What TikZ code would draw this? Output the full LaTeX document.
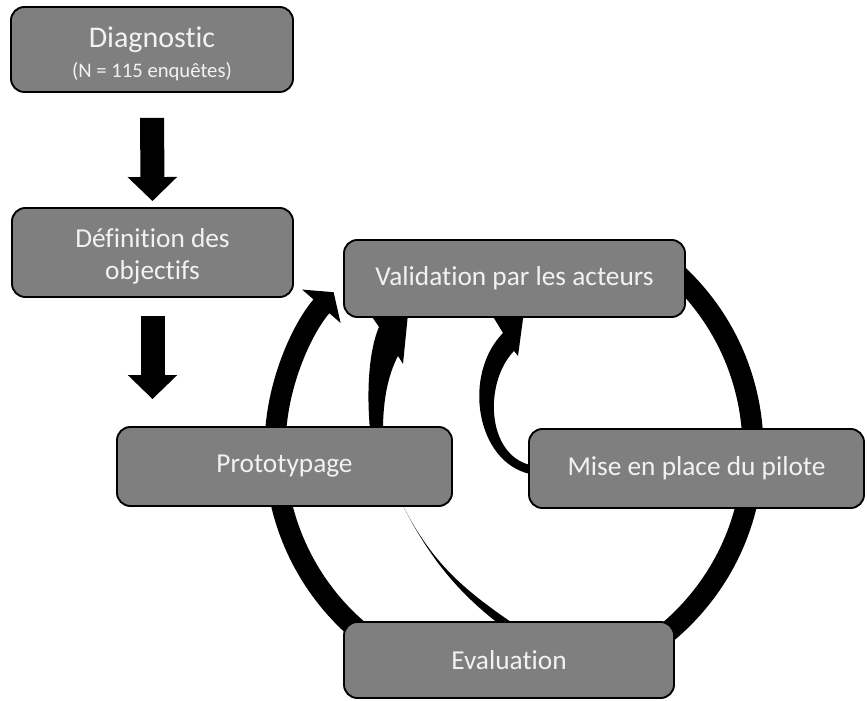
\documentclass[tikz,border=0pt]{standalone}
\usepackage{fontspec}
\setmainfont{Carlito}[Ligatures=NoCommon]
\usetikzlibrary{arrows.meta,backgrounds}
\definecolor{stagefill}{RGB}{127,127,127}
\definecolor{stagetext}{RGB}{242,242,242}

\begin{document}
\begin{tikzpicture}[x=0.75pt,y=0.75pt,
    stage/.style={draw=black, line width=1.4pt, fill=stagefill, rounded corners=10pt, text=stagetext, align=center, inner sep=0pt, font=\fontsize{20.5}{24}\selectfont},
    downarrow/.style={line width=18pt, -{Triangle[width=36pt,length=18pt]}},
    ringarrow/.style={line width=15.75pt, -{Triangle[width=37.5pt,length=14pt]}}]
    \useasboundingbox (0,0) rectangle (867,700);
    % stages
    \node[stage, minimum width=211.5pt, minimum height=63.75pt] (diag) at (152,650.5) {{\fontsize{22.5}{27}\selectfont\rule{0pt}{22pt}Diagnostic}\\[-1.5pt]{\fontsize{15.5}{18}\selectfont (N = 115 enquêtes)}};
    \node[stage, minimum width=210.75pt, minimum height=66.75pt] (defi) at (152.5,447.5) {\rule{0pt}{19.5pt}Définition des\\objectifs};
    \node[stage, minimum width=255.75pt, minimum height=57.75pt] (valid) at (514.5,421.5) {Validation par les acteurs};
    \node[stage, minimum width=251.25pt, minimum height=59.25pt] (proto) at (284.5,233.5) {Prototypage};
    \node[stage, minimum width=251.25pt, minimum height=59.25pt] (mise) at (696.5,231.5) {Mise en place du pilote};
    \node[stage, minimum width=247.5pt, minimum height=57pt] (eval) at (509,40) {Evaluation};
    \coordinate (hub) at (514,251);
    % arrows behind the stages
    \begin{scope}[on background layer]
      \draw[downarrow, shorten <=18.75pt, shorten >=4.5pt] (diag.south) -- (defi.north);
      \draw[downarrow, shorten <=13.5pt, shorten >=20.25pt] (defi.south) -- (defi.south |- proto.north);
      \draw[ringarrow] (hub) ++(50:239) arc[start angle=50, end angle=-221, radius=179.25pt];
      % prototypage -> validation
      \fill ([shift={(85.5,-4)}]proto.north) .. controls (366,315) and (370,352) .. ([shift={(-135.5,-9)}]valid.south)
        -- ([shift={(-144.5,4)}]valid.south) -- ([shift={(-105.5,14)}]valid.south) -- ([shift={(-111.5,-46)}]valid.south)
        -- ([shift={(-116.5,-38)}]valid.south) .. controls (388,325) and (383,300) .. ([shift={(98.5,-4)}]proto.north) -- cycle;
      % pilote -> validation
      \fill ([shift={(2,-5.5)}]mise.west) .. controls (476,238) and (462,325) .. ([shift={(-11.5,-15)}]valid.south)
        -- ([shift={(-22.5,3)}]valid.south) -- ([shift={(10.5,14)}]valid.south) -- ([shift={(3.5,-38)}]valid.south)
        -- ([shift={(-0.5,-33)}]valid.south) .. controls (484,318) and (486,246) .. ([shift={(2,3.5)}]mise.west) -- cycle;
      % prototypage -> evaluation
      \fill ([shift={(117.5,3)}]proto.south) .. controls (431,139) and (461,112) .. ([shift={(5,-3)}]eval.north)
        -- ([shift={(-10,-3)}]eval.north) .. controls (458,108) and (430,141) .. ([shift={(117.5,3)}]proto.south) -- cycle;
    \end{scope}
\end{tikzpicture}
\end{document}
